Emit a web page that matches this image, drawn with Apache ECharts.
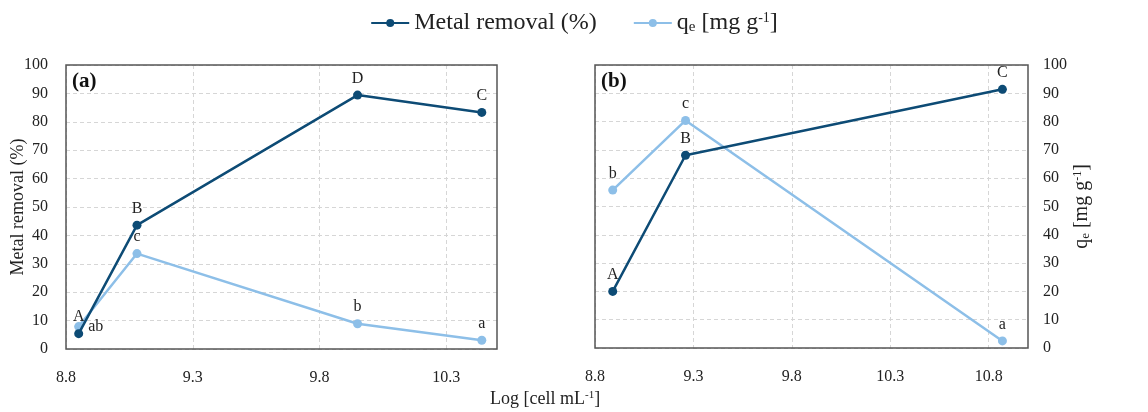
<!DOCTYPE html>
<html><head><meta charset="utf-8">
<script src="https://cdn.jsdelivr.net/npm/echarts@6/dist/echarts.min.js"></script>
<style>html,body{margin:0;padding:0;background:#fff}#c{width:1148px;height:412px}</style>
</head><body><div id="c"></div>
<script>
// ---- data ----
const xA = [8.85, 9.08, 9.95, 10.44];
const removalA = [5.4, 43.6, 89.4, 83.3];
const qeA = [7.9, 33.6, 8.9, 3.1];
const removalLettersA = ['A', 'B', 'D', 'C'];
const qeLettersA = ['ab', 'c', 'b', 'a'];

const xB = [8.89, 9.26, 10.87];
const removalB = [20.0, 68.1, 91.4];
const qeB = [55.8, 80.4, 2.5];
const removalLettersB = ['A', 'B', 'C'];
const qeLettersB = ['b', 'c', 'a'];

const xTicksA = [8.8, 9.3, 9.8, 10.3];
const xTicksB = [8.8, 9.3, 9.8, 10.3, 10.8];
const panelLabels = ['(a)', '(b)'];

// ---- style ----
const FONT = '"Liberation Serif", "DejaVu Serif", serif';
const DARK = '#0d4b75';
const LIGHT = '#8dbfe8';
const TXT = '#222';

const chart = echarts.init(document.getElementById('c'), null, {renderer: 'canvas'});

function pts(xs, ys) { return xs.map((x, i) => [x, ys[i]]); }

function mkSeries(name, color, xs, ys, letters, gi, z, special) {
  return {
    type: 'line', name: name, xAxisIndex: gi, yAxisIndex: gi, z: z,
    data: pts(xs, ys).map((p, i) => {
      const item = {value: p};
      if (special && special(i)) item.label = special(i);
      return item;
    }),
    symbol: 'circle', symbolSize: 9,
    lineStyle: {color: color, width: 2.5},
    itemStyle: {color: color},
    label: {
      show: true, position: 'top', distance: 4,
      formatter: p => letters[p.dataIndex],
      fontFamily: FONT, fontSize: 16, color: TXT
    },
    emphasis: {disabled: true},
    animation: false
  };
}

const xAxisCommon = {
  type: 'value',
  axisLine: {show: false},
  axisTick: {show: false},
  splitLine: {show: true, lineStyle: {color: '#d6d6d6', type: [4, 3], width: 1}},
  axisLabel: {fontFamily: FONT, fontSize: 16, color: TXT, margin: 21}
};
const yAxisCommon = {
  type: 'value', min: 0, max: 100, interval: 10,
  axisLine: {show: false},
  axisTick: {show: false},
  splitLine: {show: true, lineStyle: {color: '#d6d6d6', type: [4, 3], width: 1}},
  nameLocation: 'middle',
  nameMoveOverlap: false,
  nameTextStyle: {fontFamily: FONT, fontSize: 18, color: TXT}
};

const option = {
  backgroundColor: '#fff',
  animation: false,
  legend: {
    top: 6, left: 'center',
    data: ['removal', 'qe'],
    itemWidth: 38, itemHeight: 10, itemGap: 36,
    formatter: n => n === 'removal' ? 'Metal removal (%)' : 'q{sub|e} [mg g{sup|-1}]',
    textStyle: {
      fontFamily: FONT, fontSize: 24, color: TXT,
      rich: {
        sub: {fontFamily: FONT, fontSize: 15, color: TXT, verticalAlign: 'bottom'},
        sup: {fontFamily: FONT, fontSize: 14, color: TXT, verticalAlign: 'top'}
      }
    }
  },
  grid: [
    {left: 66, right: 651, top: 65, bottom: 63, show: true, z: 1, borderColor: '#555', borderWidth: 1.5, backgroundColor: 'transparent'},
    {left: 595, right: 120, top: 65, bottom: 64, show: true, z: 1, borderColor: '#555', borderWidth: 1.5, backgroundColor: 'transparent'}
  ],
  xAxis: [
    Object.assign({}, xAxisCommon, {gridIndex: 0, min: 8.8, max: 10.5,
      axisLabel: Object.assign({}, xAxisCommon.axisLabel, {customValues: xTicksA}),
      axisTick: {show: false, customValues: xTicksA}}),
    Object.assign({}, xAxisCommon, {gridIndex: 1, min: 8.8, max: 11.0,
      axisLabel: Object.assign({}, xAxisCommon.axisLabel, {customValues: xTicksB}),
      axisTick: {show: false, customValues: xTicksB}})
  ],
  yAxis: [
    Object.assign({}, yAxisCommon, {gridIndex: 0, position: 'left',
      name: 'Metal removal (%)', nameGap: 39,
      axisLabel: {fontFamily: FONT, fontSize: 16, color: TXT, margin: 18}}),
    Object.assign({}, yAxisCommon, {gridIndex: 1, position: 'right',
      name: 'q{sub|e} [mg g{sup|-1}]', nameGap: 44,
      nameTextStyle: Object.assign({}, yAxisCommon.nameTextStyle, {fontSize: 20,
        rich: {
          sub: {fontFamily: FONT, fontSize: 13, color: TXT, verticalAlign: 'bottom'},
          sup: {fontFamily: FONT, fontSize: 12, color: TXT, verticalAlign: 'top'}
        }}),
      axisLabel: {fontFamily: FONT, fontSize: 16, color: TXT, margin: 15}})
  ],
  series: [
    mkSeries('qe', LIGHT, xA, qeA, qeLettersA, 0, 2, i => i === 0 ? {position: 'right', distance: 5} : null),
    mkSeries('removal', DARK, xA, removalA, removalLettersA, 0, 3),
    mkSeries('qe', LIGHT, xB, qeB, qeLettersB, 1, 2),
    mkSeries('removal', DARK, xB, removalB, removalLettersB, 1, 3)
  ],
  graphic: [
    {type: 'text', left: 72, top: 71, z: 10,
      style: {text: panelLabels[0], font: 'bold 21px ' + FONT, fill: '#111'}},
    {type: 'text', left: 601, top: 71, z: 10,
      style: {text: panelLabels[1], font: 'bold 21px ' + FONT, fill: '#111'}},
    {type: 'text', left: 490, top: 390, z: 10,
      style: {text: 'Log [cell mL{sup|-1}]', font: '18px ' + FONT, fill: TXT,
        rich: {sup: {fontFamily: FONT, fontSize: 11, fill: TXT, verticalAlign: 'top'}}}}
  ]
};
chart.setOption(option);
</script></body></html>
